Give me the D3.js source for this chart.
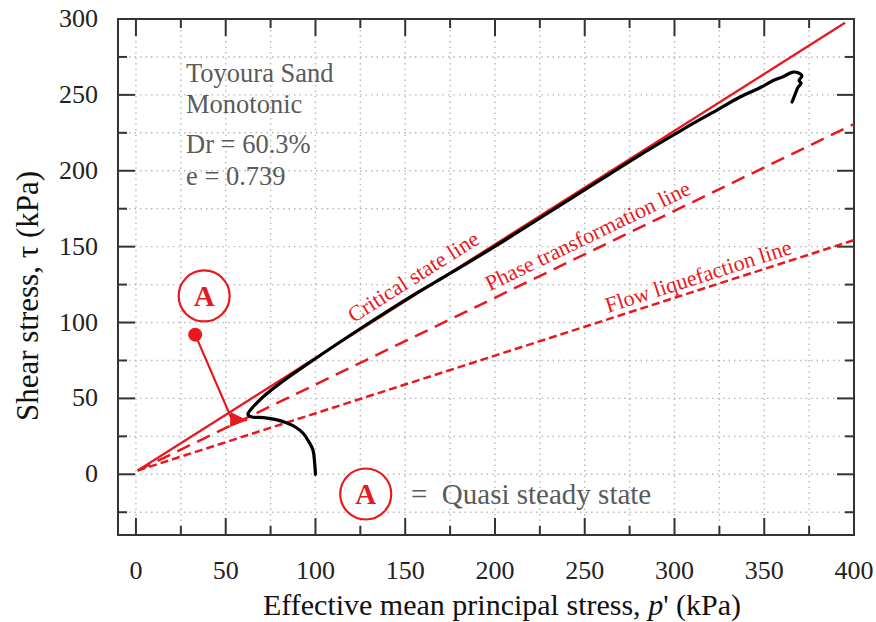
<!DOCTYPE html>
<html>
<head>
<meta charset="utf-8">
<script src="https://cdn.jsdelivr.net/npm/d3@7/dist/d3.min.js"></script>
<style>
  body { margin: 0; background: #fff; }
  svg { display: block; font-family: "Liberation Serif", "Times New Roman", serif; }
</style>
</head>
<body>
<svg id="chart" width="876" height="622"></svg>
<script>
// ---- data ----
const xTicks = [0, 50, 100, 150, 200, 250, 300, 350, 400];
const yTicks = [0, 50, 100, 150, 200, 250, 300];

// stress path of the monotonic test  [p', tau]
const stressPath = [
  [100, 0], [99.5, 8], [98.6, 16], [96, 22], [93, 27.2], [89, 31], [84.1, 33.8],
  [78, 36], [73, 37], [68, 37.5], [64.6, 37.7], [62.4, 39.5], [63.5, 42],
  [65.3, 44.5], [70.9, 51.1], [80.2, 59.9], [98.8, 75.3], [126.6, 97.2],
  [154.5, 118.1], [173.1, 131], [200, 150.2], [230, 172.5], [260, 195],
  [285, 213.5], [305, 227.5], [323.7, 240], [336.5, 248.6], [349, 255.5],
  [355, 259.5], [360.4, 262], [366, 265], [368.8, 264.6], [371, 262.5],
  [369.4, 259.5], [370.5, 257.5], [368.8, 255], [367, 249.8], [365.5, 245.3]
];

// reference lines [p', tau] end points
const criticalLine = [[1, 2.5], [395, 297.5]];
const phaseLine = [[1, 2.5], [400, 230.8]];
const flowLine = [[1, 2.5], [400, 154.3]];

const infoLines = ['Toyoura Sand', 'Monotonic', 'Dr = 60.3%', 'e = 0.739'];
const stateMarker = { p: 33, tau: 92 };
const arrowPath = [[33, 92], [53.5, 36], [62, 35.6]];

// ---- layout ----
const svg = d3.select('#chart');
const plotLeft = 118, plotRight = 854, plotTop = 19, plotBottom = 535;

const x = d3.scaleLinear().domain([-10, 400]).range([plotLeft, plotRight]);
const y = d3.scaleLinear().domain([-40, 300]).range([plotBottom, plotTop]);

const red = '#e8191e';
const frameColor = '#333';
const textGray = '#5a5a5a';

// grid (dotted) every 25
const gridX = d3.range(0, 400, 25);
const gridY = d3.range(-25, 300, 25);
const grid = svg.append('g').attr('class', 'grid')
  .attr('stroke', '#b8b8b8').attr('stroke-width', 1.4)
  .attr('stroke-dasharray', '1.5,4');
grid.selectAll('.gx').data(gridX).join('line')
  .attr('x1', d => x(d)).attr('x2', d => x(d))
  .attr('y1', plotTop).attr('y2', plotBottom);
grid.selectAll('.gy').data(gridY).join('line')
  .attr('x1', plotLeft).attr('x2', plotRight)
  .attr('y1', d => y(d)).attr('y2', d => y(d));

// inward ticks on all four sides
const xMinor = d3.range(0, 401, 25);
const yMinor = d3.range(-25, 301, 25);
function tickLen(v) { return v % 50 === 0 ? 17 : 9; }

const ticks = svg.append('g').attr('stroke', frameColor).attr('stroke-width', 2);
ticks.selectAll('.tb').data(xMinor).join('line')
  .attr('x1', d => x(d)).attr('x2', d => x(d))
  .attr('y1', plotBottom).attr('y2', d => plotBottom - tickLen(d));
ticks.selectAll('.tt').data(xMinor).join('line')
  .attr('x1', d => x(d)).attr('x2', d => x(d))
  .attr('y1', plotTop).attr('y2', d => plotTop + tickLen(d));
ticks.selectAll('.tl').data(yMinor).join('line')
  .attr('y1', d => y(d)).attr('y2', d => y(d))
  .attr('x1', plotLeft).attr('x2', d => plotLeft + tickLen(d));
ticks.selectAll('.tr').data(yMinor).join('line')
  .attr('y1', d => y(d)).attr('y2', d => y(d))
  .attr('x1', plotRight).attr('x2', d => plotRight - tickLen(d));

// frame
svg.append('rect')
  .attr('x', plotLeft).attr('y', plotTop)
  .attr('width', plotRight - plotLeft).attr('height', plotBottom - plotTop)
  .attr('fill', 'none').attr('stroke', frameColor).attr('stroke-width', 2);

// tick labels
svg.append('g').selectAll('text').data(xTicks).join('text')
  .attr('x', d => x(d)).attr('y', 579)
  .attr('text-anchor', 'middle')
  .attr('font-size', 26).attr('fill', '#222')
  .text(d => d);
svg.append('g').selectAll('text').data(yTicks).join('text')
  .attr('x', 98).attr('y', d => y(d) + 8)
  .attr('text-anchor', 'end')
  .attr('font-size', 26).attr('fill', '#222')
  .text(d => d);

// axis titles
const xTitle = svg.append('text')
  .attr('x', 502).attr('y', 615)
  .attr('text-anchor', 'middle')
  .attr('font-size', 30).attr('fill', '#111');
xTitle.append('tspan').text('Effective mean principal stress, ');
xTitle.append('tspan').attr('font-style', 'italic').text('p');
xTitle.append('tspan').text("' (kPa)");

svg.append('text')
  .attr('transform', 'translate(38,296) rotate(-90)')
  .attr('text-anchor', 'middle')
  .attr('font-size', 31).attr('fill', '#111')
  .text('Shear stress, \u03c4 (kPa)');

// clip to plot area
svg.append('clipPath').attr('id', 'plot-clip')
  .append('rect').attr('x', plotLeft).attr('y', plotTop)
  .attr('width', plotRight - plotLeft).attr('height', plotBottom - plotTop);

const line = d3.line().x(d => x(d[0])).y(d => y(d[1]));
const plot = svg.append('g').attr('clip-path', 'url(#plot-clip)');

plot.append('path').datum(criticalLine).attr('d', line)
  .attr('fill', 'none').attr('stroke', red).attr('stroke-width', 2.2);
plot.append('path').datum(phaseLine).attr('d', line)
  .attr('fill', 'none').attr('stroke', red).attr('stroke-width', 2.5)
  .attr('stroke-dasharray', '14,8');
plot.append('path').datum(flowLine).attr('d', line)
  .attr('fill', 'none').attr('stroke', red).attr('stroke-width', 2.5)
  .attr('stroke-dasharray', '8,4');

// the stress path
plot.append('path').datum(stressPath)
  .attr('d', d3.line().curve(d3.curveCatmullRom).x(d => x(d[0])).y(d => y(d[1])))
  .attr('fill', 'none').attr('stroke', '#000').attr('stroke-width', 3.2)
  .attr('stroke-linejoin', 'round').attr('stroke-linecap', 'round');

// line labels, rotated to the on-screen slope of each line
function lineLabel(pts, atP, txt, dy) {
  const [a, b] = pts;
  const ang = Math.atan2(y(b[1]) - y(a[1]), x(b[0]) - x(a[0])) * 180 / Math.PI;
  const t = a[1] + (b[1] - a[1]) * (atP - a[0]) / (b[0] - a[0]);
  svg.append('text')
    .attr('transform', `translate(${x(atP)},${y(t)}) rotate(${ang})`)
    .attr('dy', dy)
    .attr('font-size', 22).attr('fill', red)
    .text(txt);
}
lineLabel(criticalLine, 124, 'Critical state line', -9);
lineLabel(phaseLine, 199, 'Phase transformation line', -8);
lineLabel(flowLine, 264, 'Flow liquefaction line', -6);

// sample info text
svg.append('g').selectAll('text').data(infoLines).join('text')
  .attr('x', 186).attr('y', (d, i) => [82, 113, 153, 185][i])
  .attr('font-size', 26.5).attr('fill', textGray)
  .text(d => d);

// quasi steady state marker and arrow
svg.append('defs').append('marker')
  .attr('id', 'arrowhead').attr('viewBox', '0 0 17 15')
  .attr('refX', 17).attr('refY', 7.5)
  .attr('markerWidth', 17).attr('markerHeight', 15)
  .attr('markerUnits', 'userSpaceOnUse')
  .attr('orient', 'auto')
  .append('path').attr('d', 'M0,0L17,7.5L0,15Z').attr('fill', red);

svg.append('path').datum(arrowPath).attr('d', line)
  .attr('fill', 'none').attr('stroke', red).attr('stroke-width', 2.2)
  .attr('marker-end', 'url(#arrowhead)');
svg.append('circle')
  .attr('cx', x(stateMarker.p)).attr('cy', y(stateMarker.tau))
  .attr('r', 7).attr('fill', red);

function circledA(p, tau) {
  const g = svg.append('g').attr('transform', `translate(${x(p)},${y(tau)})`);
  g.append('circle').attr('r', 25.5)
    .attr('fill', '#fff').attr('stroke', red).attr('stroke-width', 2.2);
  g.append('text').attr('y', 10)
    .attr('text-anchor', 'middle')
    .attr('font-size', 29).attr('font-weight', 'bold').attr('fill', red)
    .text('A');
}
circledA(38, 117.5);
circledA(128, -13);

svg.append('text')
  .attr('x', 411).attr('y', 504)
  .attr('font-size', 29).attr('fill', textGray)
  .attr('xml:space', 'preserve')
  .text('=  Quasi steady state');
</script>
</body>
</html>
